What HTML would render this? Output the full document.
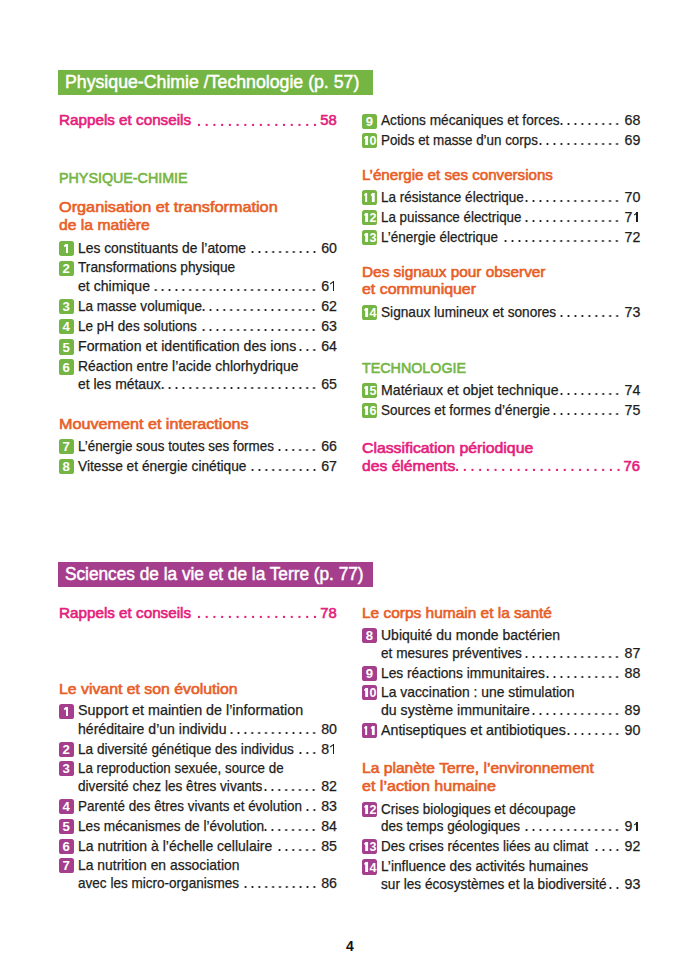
<!DOCTYPE html>
<html><head><meta charset="utf-8"><style>
html,body{margin:0;padding:0;background:#fff}
body{width:700px;height:972px;position:relative;overflow:hidden;font-family:"Liberation Sans", sans-serif;color:#1d1d1b}
.ln{position:absolute;white-space:nowrap;transform-origin:0 0}
.head,.pink,.pnm{-webkit-text-stroke:0.6px currentColor}
.ln.bar{-webkit-text-stroke:0.5px #fff}
.body,.nm{-webkit-text-stroke:0.25px currentColor}
.pink,.pnm{color:#e5207c}
.bar{color:#fff}
.nm,.pnm{text-align:right}
.ld{position:absolute;height:4px;background-image:radial-gradient(circle at 50% 3px,#1d1d1b 0.8px,rgba(0,0,0,0) 1.3px);background-repeat:repeat-x;background-position:right top}
.ld.pk{background-image:radial-gradient(circle at 50% 2.9px,#e5207c 1.05px,rgba(0,0,0,0) 1.55px)}
.bar{position:absolute}
.bd{position:absolute;width:15.2px;height:15.2px;border-radius:2.6px;overflow:hidden}
.bn{position:absolute;left:0;top:0.2px;width:15.2px;height:15.2px;line-height:15.2px;text-align:center;color:#fff;font-weight:bold;font-size:13.2px}
.bn.two{letter-spacing:-0.6px;text-indent:-0.6px;transform:scaleX(0.95);font-size:13.2px}
.pg{font-weight:bold;color:#111}
.one{display:inline-block;position:relative;width:0.556em;height:0.7em;vertical-align:baseline}
.one::before{content:"";position:absolute;left:0.26em;bottom:0;width:0.105em;height:0.69em;background:currentColor}
.one::after{content:"";position:absolute;left:0.02em;top:0;width:0.3em;height:0.095em;background:currentColor;transform:rotate(-38deg);transform-origin:100% 0}
.bn .one::before{width:0.175em;left:0.235em;bottom:0;height:0.69em}
.bn .one::after{height:0.15em;width:0.2em;left:0.06em;top:0.01em;transform:rotate(-40deg)}
</style></head><body>
<div class="bar" style="left:58.3px;top:70.0px;width:315.00px;height:24.70px;background:#75b543"></div>
<div class="ln bar" style="left:64.90px;top:69.66px;font-size:18.0px;line-height:24px;transform:scaleX(0.9838);">Physique-Chimie /Technologie (p. 57)</div>
<div class="ln pink" style="left:59.00px;top:110.37px;font-size:14.8px;line-height:20px;transform:scaleX(1.0295);">Rappels et conseils</div>
<div class="ld pk" style="left:195.03px;top:121.50px;width:123.84px;background-size:7.74px 4px"></div>
<div class="ln pnm" style="left:318.87px;top:110.37px;width:17.83px;font-size:14.8px;line-height:20px">58</div>
<div class="ln head" style="left:59.00px;top:167.77px;font-size:14.8px;line-height:20px;transform:scaleX(0.9656);color:#75b543">PHYSIQUE-CHIMIE</div>
<div class="ln head" style="left:59.00px;top:197.37px;font-size:14.8px;line-height:20px;transform:scaleX(1.0987);color:#e85e27">Organisation et transformation</div>
<div class="ln head" style="left:59.00px;top:215.17px;font-size:14.8px;line-height:20px;transform:scaleX(1.0614);color:#e85e27">de la matière</div>
<div class="bd" style="left:58.50px;top:240.80px;background:#75b543"><span class="bn"><span class="one"></span></span></div>
<div class="ln body" style="left:78.40px;top:238.78px;font-size:14.2px;line-height:18px;transform:scaleX(0.9765);">Les constituants de l’atome</div>
<div class="ld" style="left:248.55px;top:248.70px;width:68.90px;background-size:6.89px 4px"></div>
<div class="ln nm" style="left:317.44px;top:238.78px;width:19.56px;font-size:14.2px;line-height:18px">60</div>
<div class="bd" style="left:58.50px;top:260.50px;background:#75b543"><span class="bn">2</span></div>
<div class="ln body" style="left:78.40px;top:258.48px;font-size:14.2px;line-height:18px;transform:scaleX(0.9661);">Transformations physique</div>
<div class="ln body" style="left:78.40px;top:277.08px;font-size:14.2px;line-height:18px;transform:scaleX(0.9922);">et chimique</div>
<div class="ld" style="left:152.09px;top:287.00px;width:165.36px;background-size:6.89px 4px"></div>
<div class="ln nm" style="left:317.44px;top:277.08px;width:19.56px;font-size:14.2px;line-height:18px">6<span class="one"></span></div>
<div class="bd" style="left:58.50px;top:299.20px;background:#75b543"><span class="bn">3</span></div>
<div class="ln body" style="left:78.40px;top:297.18px;font-size:14.2px;line-height:18px;transform:scaleX(0.9529);">La masse volumique</div>
<div class="ld" style="left:200.31px;top:307.10px;width:117.13px;background-size:6.89px 4px"></div>
<div class="ln nm" style="left:317.44px;top:297.18px;width:19.56px;font-size:14.2px;line-height:18px">62</div>
<div class="bd" style="left:58.50px;top:319.30px;background:#75b543"><span class="bn">4</span></div>
<div class="ln body" style="left:78.40px;top:317.28px;font-size:14.2px;line-height:18px;transform:scaleX(0.9533);">Le pH des solutions</div>
<div class="ld" style="left:200.31px;top:327.20px;width:117.13px;background-size:6.89px 4px"></div>
<div class="ln nm" style="left:317.44px;top:317.28px;width:19.56px;font-size:14.2px;line-height:18px">63</div>
<div class="bd" style="left:58.50px;top:339.40px;background:#75b543"><span class="bn">5</span></div>
<div class="ln body" style="left:78.40px;top:337.38px;font-size:14.2px;line-height:18px;transform:scaleX(0.9953);">Formation et identification des ions</div>
<div class="ld" style="left:296.77px;top:347.30px;width:20.67px;background-size:6.89px 4px"></div>
<div class="ln nm" style="left:317.44px;top:337.38px;width:19.56px;font-size:14.2px;line-height:18px">64</div>
<div class="bd" style="left:58.50px;top:359.40px;background:#75b543"><span class="bn">6</span></div>
<div class="ln body" style="left:78.40px;top:357.38px;font-size:14.2px;line-height:18px;transform:scaleX(0.9776);">Réaction entre l’acide chlorhydrique</div>
<div class="ln body" style="left:78.40px;top:375.48px;font-size:14.2px;line-height:18px;transform:scaleX(0.9812);">et les métaux</div>
<div class="ld" style="left:158.97px;top:385.40px;width:158.47px;background-size:6.89px 4px"></div>
<div class="ln nm" style="left:317.44px;top:375.48px;width:19.56px;font-size:14.2px;line-height:18px">65</div>
<div class="ln head" style="left:59.00px;top:413.87px;font-size:14.8px;line-height:20px;transform:scaleX(1.0919);color:#e85e27">Mouvement et interactions</div>
<div class="bd" style="left:58.50px;top:439.10px;background:#75b543"><span class="bn">7</span></div>
<div class="ln body" style="left:78.40px;top:437.08px;font-size:14.2px;line-height:18px;transform:scaleX(0.9445);">L’énergie sous toutes ses formes</div>
<div class="ld" style="left:276.11px;top:447.00px;width:41.34px;background-size:6.89px 4px"></div>
<div class="ln nm" style="left:317.44px;top:437.08px;width:19.56px;font-size:14.2px;line-height:18px">66</div>
<div class="bd" style="left:58.50px;top:459.10px;background:#75b543"><span class="bn">8</span></div>
<div class="ln body" style="left:78.40px;top:457.08px;font-size:14.2px;line-height:18px;transform:scaleX(0.9681);">Vitesse et énergie cinétique</div>
<div class="ld" style="left:248.55px;top:467.00px;width:68.90px;background-size:6.89px 4px"></div>
<div class="ln nm" style="left:317.44px;top:457.08px;width:19.56px;font-size:14.2px;line-height:18px">67</div>
<div class="bd" style="left:361.90px;top:113.50px;background:#75b543"><span class="bn">9</span></div>
<div class="ln body" style="left:381.40px;top:111.48px;font-size:14.2px;line-height:18px;transform:scaleX(0.9637);">Actions mécaniques et forces</div>
<div class="ld" style="left:558.04px;top:121.40px;width:62.64px;background-size:6.96px 4px"></div>
<div class="ln nm" style="left:620.68px;top:111.48px;width:19.62px;font-size:14.2px;line-height:18px">68</div>
<div class="bd" style="left:361.90px;top:133.20px;background:#75b543"><span class="bn two"><span class="one"></span>0</span></div>
<div class="ln body" style="left:381.40px;top:131.18px;font-size:14.2px;line-height:18px;transform:scaleX(0.9429);">Poids et masse d’un corps</div>
<div class="ld" style="left:537.16px;top:141.10px;width:83.52px;background-size:6.96px 4px"></div>
<div class="ln nm" style="left:620.68px;top:131.18px;width:19.62px;font-size:14.2px;line-height:18px">69</div>
<div class="ln head" style="left:362.30px;top:164.67px;font-size:14.8px;line-height:20px;transform:scaleX(1.0224);color:#e85e27">L’énergie et ses conversions</div>
<div class="bd" style="left:361.90px;top:190.30px;background:#75b543"><span class="bn two"><span class="one"></span><span class="one"></span></span></div>
<div class="ln body" style="left:381.40px;top:188.28px;font-size:14.2px;line-height:18px;transform:scaleX(0.9523);">La résistance électrique</div>
<div class="ld" style="left:523.24px;top:198.20px;width:97.44px;background-size:6.96px 4px"></div>
<div class="ln nm" style="left:620.68px;top:188.28px;width:19.62px;font-size:14.2px;line-height:18px">70</div>
<div class="bd" style="left:361.90px;top:210.10px;background:#75b543"><span class="bn two"><span class="one"></span>2</span></div>
<div class="ln body" style="left:381.40px;top:208.08px;font-size:14.2px;line-height:18px;transform:scaleX(0.9425);">La puissance électrique</div>
<div class="ld" style="left:523.24px;top:218.00px;width:97.44px;background-size:6.96px 4px"></div>
<div class="ln nm" style="left:620.68px;top:208.08px;width:19.62px;font-size:14.2px;line-height:18px">7<span class="one"></span></div>
<div class="bd" style="left:361.90px;top:230.00px;background:#75b543"><span class="bn two"><span class="one"></span>3</span></div>
<div class="ln body" style="left:381.40px;top:227.98px;font-size:14.2px;line-height:18px;transform:scaleX(0.9500);">L’énergie électrique</div>
<div class="ld" style="left:502.36px;top:237.90px;width:118.32px;background-size:6.96px 4px"></div>
<div class="ln nm" style="left:620.68px;top:227.98px;width:19.62px;font-size:14.2px;line-height:18px">72</div>
<div class="ln head" style="left:362.30px;top:261.67px;font-size:14.8px;line-height:20px;transform:scaleX(1.0376);color:#e85e27">Des signaux pour observer</div>
<div class="ln head" style="left:362.30px;top:279.27px;font-size:14.8px;line-height:20px;transform:scaleX(1.0745);color:#e85e27">et communiquer</div>
<div class="bd" style="left:361.90px;top:304.70px;background:#75b543"><span class="bn two"><span class="one"></span>4</span></div>
<div class="ln body" style="left:381.40px;top:302.68px;font-size:14.2px;line-height:18px;transform:scaleX(0.9616);">Signaux lumineux et sonores</div>
<div class="ld" style="left:558.04px;top:312.60px;width:62.64px;background-size:6.96px 4px"></div>
<div class="ln nm" style="left:620.68px;top:302.68px;width:19.62px;font-size:14.2px;line-height:18px">73</div>
<div class="ln head" style="left:362.30px;top:357.77px;font-size:14.8px;line-height:20px;transform:scaleX(0.9655);color:#75b543">TECHNOLOGIE</div>
<div class="bd" style="left:361.90px;top:383.10px;background:#75b543"><span class="bn two"><span class="one"></span>5</span></div>
<div class="ln body" style="left:381.40px;top:381.08px;font-size:14.2px;line-height:18px;transform:scaleX(0.9958);">Matériaux et objet technique</div>
<div class="ld" style="left:558.04px;top:391.00px;width:62.64px;background-size:6.96px 4px"></div>
<div class="ln nm" style="left:620.68px;top:381.08px;width:19.62px;font-size:14.2px;line-height:18px">74</div>
<div class="bd" style="left:361.90px;top:402.80px;background:#75b543"><span class="bn two"><span class="one"></span>6</span></div>
<div class="ln body" style="left:381.40px;top:400.78px;font-size:14.2px;line-height:18px;transform:scaleX(0.9524);">Sources et formes d’énergie</div>
<div class="ld" style="left:551.08px;top:410.70px;width:69.60px;background-size:6.96px 4px"></div>
<div class="ln nm" style="left:620.68px;top:400.78px;width:19.62px;font-size:14.2px;line-height:18px">75</div>
<div class="ln head" style="left:362.30px;top:438.47px;font-size:14.8px;line-height:20px;transform:scaleX(1.0674);color:#e5207c">Classification périodique</div>
<div class="ln pink" style="left:362.30px;top:456.27px;font-size:14.8px;line-height:20px;transform:scaleX(1.0600);">des éléments</div>
<div class="ld pk" style="left:453.45px;top:467.40px;width:169.40px;background-size:7.7px 4px"></div>
<div class="ln pnm" style="left:622.85px;top:456.27px;width:17.15px;font-size:14.8px;line-height:20px">76</div>
<div class="bar" style="left:58.3px;top:562.2px;width:315.00px;height:24.60px;background:#a53f8d"></div>
<div class="ln bar" style="left:64.90px;top:562.26px;font-size:18.0px;line-height:24px;transform:scaleX(0.9575);">Sciences de la vie et de la Terre (p. 77)</div>
<div class="ln pink" style="left:59.00px;top:603.17px;font-size:14.8px;line-height:20px;transform:scaleX(1.0295);">Rappels et conseils</div>
<div class="ld pk" style="left:195.03px;top:614.30px;width:123.84px;background-size:7.74px 4px"></div>
<div class="ln pnm" style="left:318.87px;top:603.17px;width:17.83px;font-size:14.8px;line-height:20px">78</div>
<div class="ln head" style="left:59.00px;top:678.97px;font-size:14.8px;line-height:20px;transform:scaleX(1.0695);color:#e85e27">Le vivant et son évolution</div>
<div class="bd" style="left:58.50px;top:703.50px;background:#a53f8d"><span class="bn"><span class="one"></span></span></div>
<div class="ln body" style="left:78.40px;top:701.48px;font-size:14.2px;line-height:18px;transform:scaleX(1.0086);">Support et maintien de l’information</div>
<div class="ln body" style="left:78.40px;top:720.08px;font-size:14.2px;line-height:18px;transform:scaleX(0.9909);">héréditaire d’un individu</div>
<div class="ld" style="left:227.88px;top:730.00px;width:89.57px;background-size:6.89px 4px"></div>
<div class="ln nm" style="left:317.44px;top:720.08px;width:19.56px;font-size:14.2px;line-height:18px">80</div>
<div class="bd" style="left:58.50px;top:741.60px;background:#a53f8d"><span class="bn">2</span></div>
<div class="ln body" style="left:78.40px;top:739.58px;font-size:14.2px;line-height:18px;transform:scaleX(0.9604);">La diversité génétique des individus</div>
<div class="ld" style="left:296.77px;top:749.50px;width:20.67px;background-size:6.89px 4px"></div>
<div class="ln nm" style="left:317.44px;top:739.58px;width:19.56px;font-size:14.2px;line-height:18px">8<span class="one"></span></div>
<div class="bd" style="left:58.50px;top:761.00px;background:#a53f8d"><span class="bn">3</span></div>
<div class="ln body" style="left:78.40px;top:758.98px;font-size:14.2px;line-height:18px;transform:scaleX(0.9410);">La reproduction sexuée, source de</div>
<div class="ln body" style="left:78.40px;top:776.78px;font-size:14.2px;line-height:18px;transform:scaleX(0.9584);">diversité chez les êtres vivants</div>
<div class="ld" style="left:262.32px;top:786.70px;width:55.12px;background-size:6.89px 4px"></div>
<div class="ln nm" style="left:317.44px;top:776.78px;width:19.56px;font-size:14.2px;line-height:18px">82</div>
<div class="bd" style="left:58.50px;top:798.60px;background:#a53f8d"><span class="bn">4</span></div>
<div class="ln body" style="left:78.40px;top:796.58px;font-size:14.2px;line-height:18px;transform:scaleX(0.9463);">Parenté des êtres vivants et évolution</div>
<div class="ld" style="left:303.67px;top:806.50px;width:13.78px;background-size:6.89px 4px"></div>
<div class="ln nm" style="left:317.44px;top:796.58px;width:19.56px;font-size:14.2px;line-height:18px">83</div>
<div class="bd" style="left:58.50px;top:819.00px;background:#a53f8d"><span class="bn">5</span></div>
<div class="ln body" style="left:78.40px;top:816.98px;font-size:14.2px;line-height:18px;transform:scaleX(0.9637);">Les mécanismes de l’évolution</div>
<div class="ld" style="left:262.32px;top:826.90px;width:55.12px;background-size:6.89px 4px"></div>
<div class="ln nm" style="left:317.44px;top:816.98px;width:19.56px;font-size:14.2px;line-height:18px">84</div>
<div class="bd" style="left:58.50px;top:838.90px;background:#a53f8d"><span class="bn">6</span></div>
<div class="ln body" style="left:78.40px;top:836.88px;font-size:14.2px;line-height:18px;transform:scaleX(0.9849);">La nutrition à l’échelle cellulaire</div>
<div class="ld" style="left:276.11px;top:846.80px;width:41.34px;background-size:6.89px 4px"></div>
<div class="ln nm" style="left:317.44px;top:836.88px;width:19.56px;font-size:14.2px;line-height:18px">85</div>
<div class="bd" style="left:58.50px;top:858.10px;background:#a53f8d"><span class="bn">7</span></div>
<div class="ln body" style="left:78.40px;top:856.08px;font-size:14.2px;line-height:18px;transform:scaleX(0.9797);">La nutrition en association</div>
<div class="ln body" style="left:78.40px;top:873.98px;font-size:14.2px;line-height:18px;transform:scaleX(0.9548);">avec les micro-organismes</div>
<div class="ld" style="left:241.66px;top:883.90px;width:75.79px;background-size:6.89px 4px"></div>
<div class="ln nm" style="left:317.44px;top:873.98px;width:19.56px;font-size:14.2px;line-height:18px">86</div>
<div class="ln head" style="left:362.30px;top:602.77px;font-size:14.8px;line-height:20px;transform:scaleX(1.0446);color:#e85e27">Le corps humain et la santé</div>
<div class="bd" style="left:361.90px;top:627.90px;background:#a53f8d"><span class="bn">8</span></div>
<div class="ln body" style="left:381.40px;top:625.88px;font-size:14.2px;line-height:18px;transform:scaleX(0.9873);">Ubiquité du monde bactérien</div>
<div class="ln body" style="left:381.40px;top:643.88px;font-size:14.2px;line-height:18px;transform:scaleX(0.9606);">et mesures préventives</div>
<div class="ld" style="left:523.24px;top:653.80px;width:97.44px;background-size:6.96px 4px"></div>
<div class="ln nm" style="left:620.68px;top:643.88px;width:19.62px;font-size:14.2px;line-height:18px">87</div>
<div class="bd" style="left:361.90px;top:665.60px;background:#a53f8d"><span class="bn">9</span></div>
<div class="ln body" style="left:381.40px;top:663.58px;font-size:14.2px;line-height:18px;transform:scaleX(0.9707);">Les réactions immunitaires</div>
<div class="ld" style="left:544.12px;top:673.50px;width:76.56px;background-size:6.96px 4px"></div>
<div class="ln nm" style="left:620.68px;top:663.58px;width:19.62px;font-size:14.2px;line-height:18px">88</div>
<div class="bd" style="left:361.90px;top:685.30px;background:#a53f8d"><span class="bn two"><span class="one"></span>0</span></div>
<div class="ln body" style="left:381.40px;top:683.28px;font-size:14.2px;line-height:18px;transform:scaleX(0.9775);">La vaccination : une stimulation</div>
<div class="ln body" style="left:381.40px;top:701.18px;font-size:14.2px;line-height:18px;transform:scaleX(0.9939);">du système immunitaire</div>
<div class="ld" style="left:530.20px;top:711.10px;width:90.48px;background-size:6.96px 4px"></div>
<div class="ln nm" style="left:620.68px;top:701.18px;width:19.62px;font-size:14.2px;line-height:18px">89</div>
<div class="bd" style="left:361.90px;top:723.20px;background:#a53f8d"><span class="bn two"><span class="one"></span><span class="one"></span></span></div>
<div class="ln body" style="left:381.40px;top:721.18px;font-size:14.2px;line-height:18px;transform:scaleX(1.0013);">Antiseptiques et antibiotiques</div>
<div class="ld" style="left:565.00px;top:731.10px;width:55.68px;background-size:6.96px 4px"></div>
<div class="ln nm" style="left:620.68px;top:721.18px;width:19.62px;font-size:14.2px;line-height:18px">90</div>
<div class="ln head" style="left:362.30px;top:758.47px;font-size:14.8px;line-height:20px;transform:scaleX(1.0572);color:#e85e27">La planète Terre, l’environnement</div>
<div class="ln head" style="left:362.30px;top:776.37px;font-size:14.8px;line-height:20px;transform:scaleX(1.0860);color:#e85e27">et l’action humaine</div>
<div class="bd" style="left:361.90px;top:801.90px;background:#a53f8d"><span class="bn two"><span class="one"></span>2</span></div>
<div class="ln body" style="left:381.40px;top:799.88px;font-size:14.2px;line-height:18px;transform:scaleX(0.9453);">Crises biologiques et découpage</div>
<div class="ln body" style="left:381.40px;top:817.48px;font-size:14.2px;line-height:18px;transform:scaleX(0.9532);">des temps géologiques</div>
<div class="ld" style="left:523.24px;top:827.40px;width:97.44px;background-size:6.96px 4px"></div>
<div class="ln nm" style="left:620.68px;top:817.48px;width:19.62px;font-size:14.2px;line-height:18px">9<span class="one"></span></div>
<div class="bd" style="left:361.90px;top:839.00px;background:#a53f8d"><span class="bn two"><span class="one"></span>3</span></div>
<div class="ln body" style="left:381.40px;top:836.98px;font-size:14.2px;line-height:18px;transform:scaleX(0.9486);">Des crises récentes liées au climat</div>
<div class="ld" style="left:592.84px;top:846.90px;width:27.84px;background-size:6.96px 4px"></div>
<div class="ln nm" style="left:620.68px;top:836.98px;width:19.62px;font-size:14.2px;line-height:18px">92</div>
<div class="bd" style="left:361.90px;top:859.40px;background:#a53f8d"><span class="bn two"><span class="one"></span>4</span></div>
<div class="ln body" style="left:381.40px;top:857.38px;font-size:14.2px;line-height:18px;transform:scaleX(0.9658);">L’influence des activités humaines</div>
<div class="ln body" style="left:381.40px;top:875.28px;font-size:14.2px;line-height:18px;transform:scaleX(0.9596);">sur les écosystèmes et la biodiversité</div>
<div class="ld" style="left:606.76px;top:885.20px;width:13.92px;background-size:6.96px 4px"></div>
<div class="ln nm" style="left:620.68px;top:875.28px;width:19.62px;font-size:14.2px;line-height:18px">93</div>
<div class="ln pg" style="left:340px;top:937.15px;width:20px;font-size:14px;line-height:18px;text-align:center">4</div>
</body></html>
